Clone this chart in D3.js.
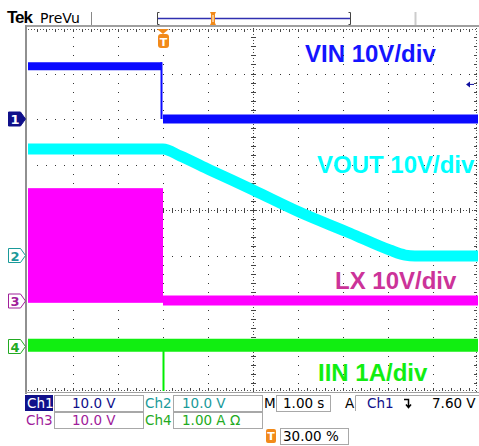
<!DOCTYPE html>
<html>
<head>
<meta charset="utf-8">
<script src="https://cdn.jsdelivr.net/npm/d3@7"></script>
<style>
  body { margin: 0; background: #fff; }
  svg { display: block; }
  text { font-family: "DejaVu Sans", sans-serif; }
</style>
</head>
<body>
<svg id="scope" width="479" height="446"></svg>
<script>
// ---- data (time in s, trigger at t=0) ----
var vinT = [-3, 0, 0, 7];
var vinV = [11.6, 11.6, 0, 0];

var voutT = [-3, 0, 0.38, 1.04, 2.0, 3.04, 4.16, 5.04, 5.38, 5.6, 7];
var voutV = [23.4, 23.4, 21.9, 18.8, 14.4, 9.5, 4.9, 1.2, 0.1, -0.1, -0.1];

var lxT = [-3, 0, 0, 7];
var lxV = [24.8, 24.8, 0.1, 0.1];   // switching envelope top before t=0, then flat
var lxLow = -0.4;

var iinT = [-3, 7];
var iinA = [0.03, 0.03];
var iinSpikeT = 0, iinSpikeA = -1.0;

var trigLevel = 7.6;

// channel settings: position in divisions, units per division
var channels = [
  {name: "1", pos: 2,  perDiv: 10, color: "#0a0aff", tag: "#10108a", filled: true},
  {name: "2", pos: -1, perDiv: 10, color: "#00ffff", tag: "#1a9a9a", filled: false},
  {name: "3", pos: -2, perDiv: 10, color: "#ff00ff", tag: "#a0209a", filled: false},
  {name: "4", pos: -3, perDiv: 1,  color: "#00ee00", tag: "#22aa22", filled: false}
];

var labels = [
  {text: "VIN 10V/div",  ch: 0, color: "#1414ff", x: 305, y: 62},
  {text: "VOUT 10V/div", ch: 1, color: "#00ffff", x: 317, y: 173},
  {text: "LX 10V/div",   ch: 2, color: "#cc3399", x: 335, y: 289},
  {text: "IIN 1A/div",   ch: 3, color: "#11ee11", x: 318, y: 381}
];

var svg = d3.select("#scope");

var x = d3.scaleLinear().domain([-3, 7]).range([28, 478]);
var yDiv = d3.scaleLinear().domain([-4, 4]).range([392, 28]);

function yOf(ch) {
  var c = channels[ch];
  return function(v) { return yDiv(c.pos + v / c.perDiv); };
}

// ---- header ----
svg.append("text").attr("x", 7).attr("y", 23)
  .style("font-family", "Liberation Sans, sans-serif").style("font-weight", "bold")
  .style("font-size", "17px").style("letter-spacing", "-1px").text("Tek");
svg.append("text").attr("x", 40).attr("y", 23)
  .style("font-size", "14px").text("PreVu");
svg.append("line").attr("x1", 91.5).attr("x2", 91.5).attr("y1", 12).attr("y2", 25)
  .attr("stroke", "#888");
svg.append("line").attr("x1", 415.5).attr("x2", 415.5).attr("y1", 12).attr("y2", 26)
  .attr("stroke", "#ccc").attr("stroke-width", 2);
// record view bracket
svg.append("line").attr("x1", 157).attr("x2", 350).attr("y1", 18.5).attr("y2", 18.5)
  .attr("stroke", "#3030b0").attr("stroke-width", 1.5);
svg.append("path").attr("d", "M159.5,12.5 H157.5 V24.5 H159.5").attr("fill", "none").attr("stroke", "#444");
svg.append("path").attr("d", "M348.5,12.5 H350.5 V24.5 H348.5").attr("fill", "none").attr("stroke", "#444");
svg.append("path").attr("d", "M210,12 H216 L215,14 V23 L216,25 H210 L211,23 V14 Z")
  .attr("fill", "#f28a1a");
svg.append("line").attr("x1", 213).attr("x2", 213).attr("y1", 15).attr("y2", 22)
  .attr("stroke", "#fff").attr("stroke-width", 1);

// ---- graticule ----
var g = svg.append("g");
var x0 = 28, x1 = 478, y0 = 28, y1 = 392;
var xs = 45 / 5, ys = 45.5 / 5;

g.append("rect").attr("x", 26).attr("y", 25).attr("width", 453).attr("height", 2).attr("fill", "#a0a0a0");
g.append("rect").attr("x", 25).attr("y", 25).attr("width", 2).attr("height", 369).attr("fill", "#909090");
g.append("rect").attr("x", 25).attr("y", 392).attr("width", 454).attr("height", 1).attr("fill", "#a0a0a0");

var dots = [];
d3.range(1, 10).forEach(function(i) {
  if (i === 5) return;
  d3.range(1, 40).forEach(function(k) { dots.push([x(-3 + i), y0 + k * ys]); });
});
d3.range(1, 8).forEach(function(j) {
  if (j === 4) return;
  d3.range(1, 50).forEach(function(k) { dots.push([x0 + k * xs, yDiv(-4 + j)]); });
});
g.selectAll("rect.dot").data(dots).enter().append("rect").attr("class", "dot")
  .attr("x", function(d) { return Math.round(d[0]); })
  .attr("y", function(d) { return Math.round(d[1]); })
  .attr("width", 1).attr("height", 1).attr("fill", "#333");

// centre cross
var cx = x(2), cy = yDiv(0);
g.append("line").attr("x1", x0).attr("x2", x1).attr("y1", cy + 0.5).attr("y2", cy + 0.5)
  .attr("stroke", "#444").attr("stroke-dasharray", "1,2");
g.append("line").attr("x1", cx + 0.5).attr("x2", cx + 0.5).attr("y1", y0).attr("y2", y1)
  .attr("stroke", "#444").attr("stroke-dasharray", "1,2");
d3.range(1, 50).forEach(function(k) {
  var px = Math.round(x0 + k * xs) + 0.5;
  g.append("line").attr("x1", px).attr("x2", px).attr("y1", cy - 2).attr("y2", cy + 3).attr("stroke", "#444");
  g.append("line").attr("x1", px).attr("x2", px).attr("y1", y0 + 1).attr("y2", y0 + 4).attr("stroke", "#444");
  g.append("line").attr("x1", px).attr("x2", px).attr("y1", y1 - 4).attr("y2", y1 - 1).attr("stroke", "#444");
});
d3.range(1, 40).forEach(function(k) {
  var py = Math.round(y0 + k * ys) + 0.5;
  g.append("line").attr("x1", cx - 2).attr("x2", cx + 3).attr("y1", py).attr("y2", py).attr("stroke", "#444");
  g.append("line").attr("x1", x1 - 4).attr("x2", x1 - 1).attr("y1", py).attr("y2", py).attr("stroke", "#444");
});
g.append("line").attr("x1", x0).attr("x2", x1).attr("y1", y0 + 1.5).attr("y2", y0 + 1.5)
  .attr("stroke", "#555").attr("stroke-dasharray", "1,2");
g.append("line").attr("x1", x0).attr("x2", x1).attr("y1", y1 - 1.5).attr("y2", y1 - 1.5)
  .attr("stroke", "#555").attr("stroke-dasharray", "1,2");
g.append("line").attr("x1", x1 - 1.5).attr("x2", x1 - 1.5).attr("y1", y0).attr("y2", y1)
  .attr("stroke", "#555").attr("stroke-dasharray", "1,2");

// ---- traces ----
var tr = svg.append("g");

// LX: switching block before the event, then a flat band
var yLx = yOf(2);
tr.append("rect").attr("x", x(lxT[0])).attr("width", x(lxT[1]) - x(lxT[0]))
  .attr("y", yLx(lxV[0])).attr("height", yLx(lxLow) - yLx(lxV[0]))
  .attr("fill", "#ff00ff");
tr.append("line").attr("x1", x(lxT[2])).attr("x2", x(lxT[3]))
  .attr("y1", yLx(lxV[2])).attr("y2", yLx(lxV[3]))
  .attr("stroke", "#ff00ff").attr("stroke-width", 10);

// VOUT
var yVo = yOf(1);
var voutLine = d3.line().x(function(d) { return x(d[0]); }).y(function(d) { return yVo(d[1]); })
  .curve(d3.curveMonotoneX);
tr.append("path").datum(d3.zip(voutT, voutV)).attr("d", voutLine)
  .attr("fill", "none").attr("stroke", "#00ffff").attr("stroke-width", 11)
  .attr("stroke-linejoin", "round");

// VIN
var yVi = yOf(0);
tr.append("line").attr("x1", x(vinT[0])).attr("x2", x(vinT[1]) - 1)
  .attr("y1", yVi(vinV[0])).attr("y2", yVi(vinV[1]))
  .attr("stroke", "#0a0aff").attr("stroke-width", 8);
tr.append("line").attr("x1", x(vinT[1]) - 1.5).attr("x2", x(vinT[2]) - 1.5)
  .attr("y1", yVi(vinV[1]) - 4).attr("y2", yVi(vinV[2]))
  .attr("stroke", "#0a0aff").attr("stroke-width", 2);
tr.append("line").attr("x1", x(vinT[2])).attr("x2", x(vinT[3]))
  .attr("y1", yVi(vinV[2])).attr("y2", yVi(vinV[3]))
  .attr("stroke", "#0a0aff").attr("stroke-width", 9);

// IIN
var yIi = yOf(3);
tr.append("line").attr("x1", x(iinSpikeT) + 0.5).attr("x2", x(iinSpikeT) + 0.5)
  .attr("y1", yIi(iinA[0])).attr("y2", yIi(iinSpikeA) - 1)
  .attr("stroke", "#00ee00").attr("stroke-width", 2);
tr.append("line").attr("x1", x(iinT[0])).attr("x2", x(iinT[1]))
  .attr("y1", yIi(iinA[0])).attr("y2", yIi(iinA[1]))
  .attr("stroke", "#11ee11").attr("stroke-width", 13);

// trigger position marker
var tx = x(0);
svg.append("path").attr("d", "M" + (tx - 6) + ",29 H" + (tx + 6) + " L" + tx + ",34 Z").attr("fill", "#f28a1a");
svg.append("rect").attr("x", tx - 5).attr("y", 34).attr("width", 11).attr("height", 14).attr("rx", 3)
  .attr("fill", "#f28a1a");
svg.append("text").attr("x", tx + 0.5).attr("y", 46).attr("text-anchor", "middle")
  .style("font-size", "11px").style("font-weight", "bold").attr("fill", "#fff").text("T");

// trigger level arrow on the right
var ty = yVi(trigLevel);
svg.append("path").attr("d", "M466," + ty + " L470," + (ty - 3) + " V" + (ty + 3) + " Z").attr("fill", "#1010a0");
svg.append("line").attr("x1", 470).attr("x2", 474).attr("y1", ty).attr("y2", ty).attr("stroke", "#1010a0");

// channel ground tags
channels.forEach(function(c, i) {
  var cyy = yDiv(c.pos);
  var d = "M8.5," + (cyy - 7) + " H20.5 L25.5," + cyy + " L20.5," + (cyy + 7) + " H8.5 Z";
  svg.append("path").attr("d", d)
    .attr("fill", c.filled ? c.tag : "#fff").attr("stroke", c.tag).attr("stroke-width", 1);
  svg.append("text").attr("x", 15).attr("y", cyy + 5).attr("text-anchor", "middle")
    .style("font-size", "13px").style("font-weight", "bold")
    .attr("fill", c.filled ? "#fff" : c.tag).text(c.name);
});

// channel labels
svg.selectAll("text.lab").data(labels).enter().append("text").attr("class", "lab")
  .attr("x", function(d) { return d.x; }).attr("y", function(d) { return d.y; })
  .style("font-family", "Liberation Sans, Arial, sans-serif").style("font-weight", "bold")
  .style("font-size", "24px").attr("fill", function(d) { return d.color; })
  .text(function(d) { return d.text; });

// ---- status bar ----
var sb = svg.append("g").style("font-size", "13.5px");
function box(x, y, w, h) {
  sb.append("rect").attr("x", x + 0.5).attr("y", y + 0.5).attr("width", w).attr("height", h)
    .attr("fill", "#fff").attr("stroke", "#a8a8a8");
}
function txt(x, y, s, col) {
  sb.append("text").attr("x", x).attr("y", y).attr("fill", col).text(s);
}
sb.append("rect").attr("x", 25).attr("y", 395).attr("width", 28).attr("height", 16).attr("fill", "#10108a");
txt(27, 408, "Ch1", "#fff");
box(54, 395, 89, 16); txt(72, 408, "10.0 V", "#10108a");
txt(145, 408, "Ch2", "#1a9a9a");
box(173, 395, 89, 16); txt(182, 408, "10.0 V", "#1a9a9a");
txt(26, 425, "Ch3", "#a0209a");
box(54, 412, 89, 16); txt(72, 425, "10.0 V", "#a0209a");
txt(145, 425, "Ch4", "#22aa22");
box(173, 412, 89, 16); txt(182, 425, "1.00 A \u03A9", "#22aa22");
txt(264, 408, "M", "#000");
box(276, 395, 54, 16); txt(283, 408, "1.00 s", "#000");
txt(345, 408, "A", "#000");
sb.append("path").attr("d", "M355.5,411 V395.5 H479").attr("fill", "none").attr("stroke", "#a8a8a8");
txt(367, 408, "Ch1", "#10108a");
sb.append("path").attr("d", "M404,399.5 H408.5 V407 M406,404.5 L408.5,407.5 L411,404.5")
  .attr("fill", "none").attr("stroke", "#000").attr("stroke-width", 1.5);
txt(432, 408, "7.60 V", "#000");
sb.append("rect").attr("x", 266).attr("y", 429).attr("width", 10).attr("height", 14).attr("rx", 2).attr("fill", "#f28a1a");
sb.append("text").attr("x", 271).attr("y", 440).attr("text-anchor", "middle").attr("fill", "#fff")
  .style("font-size", "11px").style("font-weight", "bold").text("T");
box(280, 428, 68, 16); txt(283, 441, "30.00 %", "#000");
</script>
</body>
</html>
